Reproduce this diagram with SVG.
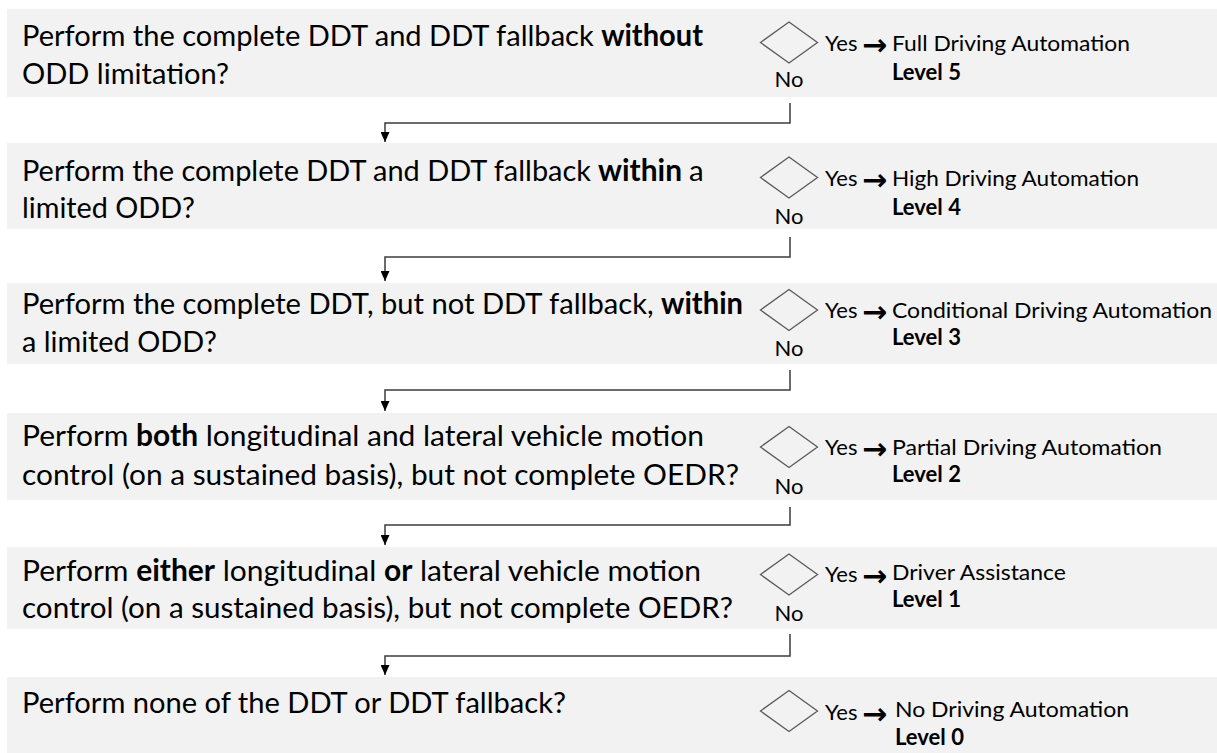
<svg xmlns="http://www.w3.org/2000/svg" width="1217" height="753" viewBox="0 0 1217 753">
<defs>
<style>
.band{fill:#f2f2f2}
.q{font-family:Lato,"Liberation Sans",sans-serif;font-size:29.5px;fill:#000}
.b{font-weight:bold}
.r{font-family:Lato,"Liberation Sans",sans-serif;font-size:22px;fill:#000}
.arr{font-family:"DejaVu Sans",sans-serif;font-size:30px;font-weight:bold;fill:#000}
.no{font-family:Lato,"Liberation Sans",sans-serif;font-size:22px;fill:#000;text-anchor:middle}
.dia{fill:none;stroke:#5a5a5a;stroke-width:1.3}
.conn{fill:none;stroke:#3c3c3c;stroke-width:1.5}
</style>
<marker id="ah" markerWidth="10" markerHeight="9" refX="10" refY="4.5" orient="auto" markerUnits="userSpaceOnUse">
<path d="M0,0 L10,4.5 L0,9 z" fill="#000"/>
</marker>
</defs>
<rect width="1217" height="753" fill="#fff"/>

<g id="q5">
<rect class="band" x="7" y="9" width="1210" height="88"/>
<text class="q" x="22" y="46" textLength="681" lengthAdjust="spacingAndGlyphs">Perform the complete DDT and DDT fallback <tspan class="b">without</tspan></text>
<text class="q" x="22" y="84" textLength="207" lengthAdjust="spacingAndGlyphs">ODD limitation?</text>
<polygon class="dia" points="760.5,42.5 789,22 817.5,42.5 789,63"/>
<text class="no" x="789" y="87">No</text>
<text class="r" x="825" y="51">Yes</text>
<text class="arr" x="862" y="55">→</text>
<text class="r" x="892" y="51" textLength="238" lengthAdjust="spacingAndGlyphs">Full Driving Automation</text>
<text class="r b" x="892" y="80">Level 5</text>
</g>

<g id="q4">
<rect class="band" x="7" y="143" width="1210" height="86"/>
<text class="q" x="22" y="181" textLength="569" lengthAdjust="spacingAndGlyphs">Perform the complete DDT and DDT fallback</text>
<text class="q b" x="598" y="181" textLength="84" lengthAdjust="spacingAndGlyphs">within</text>
<text class="q" x="689" y="181">a</text>
<text class="q" x="22" y="218" textLength="173" lengthAdjust="spacingAndGlyphs">limited ODD?</text>
<polygon class="dia" points="760.5,177.5 789,157 817.5,177.5 789,198"/>
<text class="no" x="789" y="224">No</text>
<text class="r" x="825" y="186">Yes</text>
<text class="arr" x="862" y="190">→</text>
<text class="r" x="892" y="186" textLength="247" lengthAdjust="spacingAndGlyphs">High Driving Automation</text>
<text class="r b" x="892" y="215">Level 4</text>
</g>

<g id="q3">
<rect class="band" x="7" y="283" width="1210" height="81"/>
<text class="q" x="22" y="314" textLength="721" lengthAdjust="spacingAndGlyphs">Perform the complete DDT, but not DDT fallback, <tspan class="b">within</tspan></text>
<text class="q" x="22" y="352" textLength="195" lengthAdjust="spacingAndGlyphs">a limited ODD?</text>
<polygon class="dia" points="760.5,310 789,289.5 817.5,310 789,330.5"/>
<text class="no" x="789" y="356">No</text>
<text class="r" x="825" y="318">Yes</text>
<text class="arr" x="862" y="322">→</text>
<text class="r" x="892" y="318" textLength="320" lengthAdjust="spacingAndGlyphs">Conditional Driving Automation</text>
<text class="r b" x="892" y="345">Level 3</text>
</g>

<g id="q2">
<rect class="band" x="7" y="413" width="1210" height="87"/>
<text class="q" x="22" y="446" textLength="682" lengthAdjust="spacingAndGlyphs">Perform <tspan class="b">both</tspan> longitudinal and lateral vehicle motion</text>
<text class="q" x="22" y="485" textLength="717" lengthAdjust="spacingAndGlyphs">control (on a sustained basis), but not complete OEDR?</text>
<polygon class="dia" points="760.5,447 789,426.5 817.5,447 789,467.5"/>
<text class="no" x="789" y="494">No</text>
<text class="r" x="825" y="455">Yes</text>
<text class="arr" x="862" y="459">→</text>
<text class="r" x="892" y="455" textLength="270" lengthAdjust="spacingAndGlyphs">Partial Driving Automation</text>
<text class="r b" x="892" y="482">Level 2</text>
</g>

<g id="q1">
<rect class="band" x="7" y="547" width="1210" height="82"/>
<text class="q" x="22" y="581" textLength="679" lengthAdjust="spacingAndGlyphs">Perform <tspan class="b">either</tspan> longitudinal <tspan class="b">or</tspan> lateral vehicle motion</text>
<text class="q" x="22" y="618" textLength="711" lengthAdjust="spacingAndGlyphs">control (on a sustained basis), but not complete OEDR?</text>
<polygon class="dia" points="760.5,574.5 789,554 817.5,574.5 789,595"/>
<text class="no" x="789" y="621">No</text>
<text class="r" x="825" y="582">Yes</text>
<text class="arr" x="862" y="586">→</text>
<text class="r" x="892" y="580" textLength="174" lengthAdjust="spacingAndGlyphs">Driver Assistance</text>
<text class="r b" x="892" y="607">Level 1</text>
</g>

<g id="q0">
<rect class="band" x="7" y="677" width="1210" height="76"/>
<text class="q" x="22" y="713" textLength="544" lengthAdjust="spacingAndGlyphs">Perform none of the DDT or DDT fallback?</text>
<polygon class="dia" points="760.5,711 789,690.5 817.5,711 789,731.5"/>
<text class="r" x="825" y="720">Yes</text>
<text class="arr" x="862" y="724">→</text>
<text class="r" x="895" y="717" textLength="234" lengthAdjust="spacingAndGlyphs">No Driving Automation</text>
<text class="r b" x="895" y="745">Level 0</text>
</g>

<g id="connectors">
<path class="conn" marker-end="url(#ah)" d="M790,103 V123 H385 V142"/>
<path class="conn" marker-end="url(#ah)" d="M790,237 V257 H385 V281"/>
<path class="conn" marker-end="url(#ah)" d="M790,370 V390 H385 V411"/>
<path class="conn" marker-end="url(#ah)" d="M790,507 V525 H385 V545"/>
<path class="conn" marker-end="url(#ah)" d="M790,634 V656 H385 V675"/>
</g>
</svg>
